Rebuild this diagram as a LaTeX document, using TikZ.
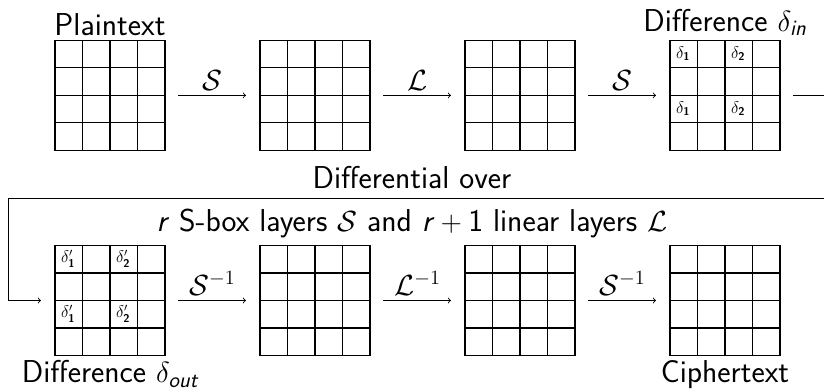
\documentclass[tikz,border=0pt]{standalone}
\usepackage{amsmath, amssymb}
\usetikzlibrary{positioning, calc}
\renewcommand{\familydefault}{\sfdefault}
\tikzset{
  stategrid/.style={draw, line width=0.8pt, minimum size=2.75cm, inner sep=0pt, outer sep=0pt},
  flow/.style={->, line width=0.6pt, shorten <=0.33cm, shorten >=0.35cm},
  cell/.style={font=\fontsize{12}{14}\selectfont, inner sep=0pt}
}

\begin{document}
\begin{tikzpicture}[font=\fontsize{22.5}{27}\selectfont, node distance=2.375cm]
  \useasboundingbox (0,0) rectangle (20.6,9.775);
  \node[stategrid] (g1) at (2.75,7.39) {};
  \node[stategrid, right=of g1] (g2) {};
  \node[stategrid, right=of g2] (g3) {};
  \node[stategrid, right=of g3] (g4) {};
  \node[stategrid] (g5) at (2.75,2.2625) {};
  \node[stategrid, right=of g5] (g6) {};
  \node[stategrid, right=of g6] (g7) {};
  \node[stategrid, right=of g7] (g8) {};
  \foreach \g in {g1,g2,g3,g4,g5,g6,g7,g8}
    \foreach \k in {1,2,3} {
      \draw[line width=0.8pt] ($(\g.north west)!\k/4!(\g.north east)$) -- ($(\g.south west)!\k/4!(\g.south east)$);
      \draw[line width=0.8pt] ($(\g.north west)!\k/4!(\g.south west)$) -- ($(\g.north east)!\k/4!(\g.south east)$);
    }
  \foreach \r in {0,2} {
    \node[cell] (a\r) at ($(g4.north west)+(0.33,{-0.33-\r*0.6875})$) {$\delta_{\textbf{1}}$};
    \node[cell] (b\r) at ($(g4.north west)+(1.705,{-0.33-\r*0.6875})$) {$\delta_{\textbf{2}}$};
    \node[cell] (c\r) at ($(g5.north west)+(0.33,{-0.33-\r*0.6875})$) {$\delta'_{\textbf{1}}$};
    \node[cell] (e\r) at ($(g5.north west)+(1.705,{-0.33-\r*0.6875})$) {$\delta'_{\textbf{2}}$};
  }
  \node[above=0pt of g1] (plain) {Plaintext};
  \node[above=0pt of g4] (din) {Difference $\delta_{\textit{in}}$};
  \node[below=0pt of g5] (dout) {Difference $\delta_{\textit{out}}$};
  \node[below=0pt of g8] (ciph) {Ciphertext};
  \draw[flow] (g1) -- node[above] (s1) {$\mathcal{S}$} (g2);
  \draw[flow] (g2) -- node[above] (l1) {$\mathcal{L}$} (g3);
  \draw[flow] (g3) -- node[above] (s2) {$\mathcal{S}$} (g4);
  \draw[flow] (g5) -- node[above] (si1) {$\mathcal{S}^{-1}$} (g6);
  \draw[flow] (g6) -- node[above] (li1) {$\mathcal{L}^{-1}$} (g7);
  \draw[flow] (g7) -- node[above] (si2) {$\mathcal{S}^{-1}$} (g8);
  \coordinate (bend) at (0.2,4.825);
  \draw[flow] (g4.east) -- ++(3,0) |- (bend) |- (g5.west);
  \node[above=0.22cm, inner sep=0pt] (over) at (10.3,4.825) {Differential over};
  \node[below=0.26cm, inner sep=0pt] (layers) at (10.3,4.825) {\textit{r} S-box layers $\mathcal{S}$ and \textit{r}${}+{}$1 linear layers $\mathcal{L}$};
\end{tikzpicture}
\end{document}
